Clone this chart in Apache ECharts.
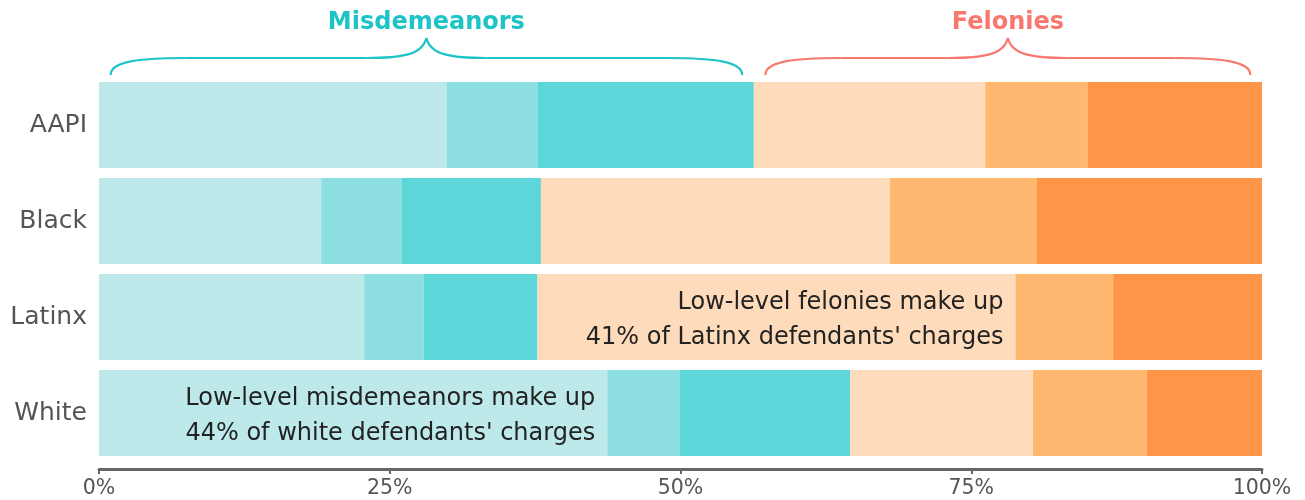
<!DOCTYPE html>
<html>
<head>
<meta charset="utf-8">
<script src="https://cdn.jsdelivr.net/npm/echarts@6/dist/echarts.min.js"></script>
<style>html,body{margin:0;padding:0;background:#fff}#c{width:1305px;height:500px}</style>
</head>
<body>
<div id="c"></div>
<script>
const categories = ['AAPI', 'Black', 'Latinx', 'White'];
const seriesNames = ['Low-level misdemeanors', 'Mid-level misdemeanors', 'High-level misdemeanors', 'Low-level felonies', 'Mid-level felonies', 'High-level felonies'];
const lowMisd  = [29.9, 19.1, 22.8, 43.7];
const midMisd  = [7.8, 6.9, 5.1, 6.2];
const highMisd = [18.6, 12.0, 9.8, 14.7];
const lowFel   = [19.9, 30.0, 41.1, 15.7];
const midFel   = [8.8, 12.65, 8.4, 9.8];
const highFel  = [15.0, 19.35, 12.8, 9.9];
const xTicks = [0, 25, 50, 75, 100];
const groups = [
  {name: 'Misdemeanors', from: 1.0, to: 55.3, color: '#1cc3c7'},
  {name: 'Felonies', from: 57.3, to: 99.0, color: '#f7786f'}
];
const annotations = [
  {series: 3, category: 'Latinx', text: "Low-level felonies make up\n41% of Latinx defendants' charges"},
  {series: 0, category: 'White', text: "Low-level misdemeanors make up\n44% of white defendants' charges"}
];

const colors = ['#bde9eb', '#8cdee0', '#5dd6d9', '#fedcbb', '#feb86f', '#fe9548'];
const values = [lowMisd, midMisd, highMisd, lowFel, midFel, highFel];

const chart = echarts.init(document.getElementById('c'));
const series = values.map((arr, si) => ({
  name: seriesNames[si],
  type: 'bar',
  stack: 'total',
  barCategoryGap: '10.4%',
  itemStyle: {color: colors[si]},
  emphasis: {disabled: true},
  data: arr.map((v, ci) => {
    const ann = annotations.find(a => a.series === si && a.category === categories[ci]);
    const d = {value: v};
    if (ann) {
      d.label = {
        show: true, position: 'insideRight', distance: 12, offset: [0, 3],
        formatter: ann.text, align: 'right',
        fontFamily: 'DejaVu Sans', fontSize: 24, lineHeight: 35, color: '#222'
      };
    }
    return d;
  })
}));

chart.setOption({
  animation: false,
  grid: {left: 99, right: 43, top: 77, bottom: 39},
  xAxis: {
    type: 'value', min: 0, max: 100, interval: 25, offset: 8,
    axisLine: {show: true, lineStyle: {color: '#666', width: 3}},
    axisTick: {show: true, length: 5, lineStyle: {color: '#666', width: 2}},
    splitLine: {show: false},
    axisLabel: {formatter: v => xTicks.includes(v) ? v + '%' : '', color: '#555', fontFamily: 'DejaVu Sans', fontSize: 20.5, margin: 9}
  },
  yAxis: {
    type: 'category', data: categories, inverse: true,
    axisLine: {show: false}, axisTick: {show: false},
    axisLabel: {color: '#555', fontFamily: 'DejaVu Sans', fontSize: 25, margin: 12, padding: [2, 0, 0, 0]}
  },
  series: series
});

const gTop = 77;
const graphics = [];
groups.forEach(g => {
  const x0 = chart.convertToPixel({xAxisIndex: 0}, g.from);
  const x1 = chart.convertToPixel({xAxisIndex: 0}, g.to);
  const xc = (x0 + x1) / 2;
  const yb = gTop - 2, ym = gTop - 19, yt = gTop - 39;
  const st = {stroke: g.color, lineWidth: 2.2, fill: null};
  const curves = [
    {x1: x0, y1: yb, cpx1: x0, cpy1: ym + 4, cpx2: x0 + 25, cpy2: ym, x2: x0 + 75, y2: ym},
    {x1: xc - 60, y1: ym, cpx1: xc - 25, cpy1: ym, cpx2: xc - 4, cpy2: ym - 3, x2: xc, y2: yt},
    {x1: xc, y1: yt, cpx1: xc + 4, cpy1: ym - 3, cpx2: xc + 25, cpy2: ym, x2: xc + 60, y2: ym},
    {x1: x1 - 75, y1: ym, cpx1: x1 - 25, cpy1: ym, cpx2: x1, cpy2: ym + 4, x2: x1, y2: yb}
  ];
  curves.forEach(c => graphics.push({type: 'bezierCurve', shape: c, style: st, silent: true}));
  graphics.push({type: 'line', shape: {x1: x0 + 75, y1: ym, x2: xc - 60, y2: ym}, style: st, silent: true});
  graphics.push({type: 'line', shape: {x1: xc + 60, y1: ym, x2: x1 - 75, y2: ym}, style: st, silent: true});
  graphics.push({type: 'text', x: xc, y: 23, silent: true, style: {text: g.name, fill: g.color, font: 'bold 24px "DejaVu Sans"', align: 'center', verticalAlign: 'middle'}});
});
chart.setOption({graphic: graphics});
</script>
</body>
</html>
